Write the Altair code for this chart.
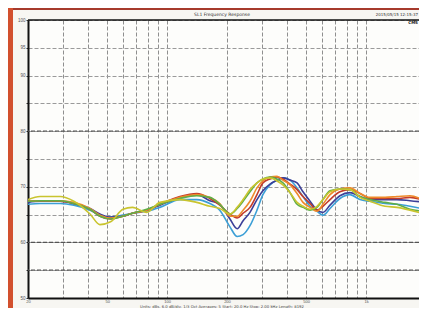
import altair as alt
import pandas as pd

# ---- data ----
freqs = [20, 23, 29, 34, 41, 46, 52, 60, 67, 79, 92, 116, 141, 164, 184, 207, 225, 241, 261, 283,
         303, 329, 357, 382, 415, 450, 482, 523, 567, 607, 659, 739, 830, 932, 1046, 1245, 1430, 1662, 1978]

cyan = [66.85, 67.0, 67.0, 66.7, 65.8, 64.9, 64.55, 64.9, 65.25, 65.6, 66.3, 67.7, 67.7, 67.0, 65.8, 62.8, 61.05, 61.4, 63.0, 65.8,
        68.6, 70.35, 71.2, 71.6, 71.2, 69.8, 68.25, 66.5, 65.6, 64.9, 66.1, 67.9, 68.6, 67.7, 67.4, 67.0, 66.85, 66.5, 65.95]
blue = [67.2, 67.4, 67.4, 67.0, 66.1, 65.1, 64.55, 64.7, 65.25, 65.8, 66.7, 68.1, 68.6, 67.5, 66.85, 64.2, 62.45, 63.9, 65.4, 67.7,
        69.3, 70.5, 71.2, 71.6, 71.2, 70.7, 69.1, 67.4, 65.8, 65.4, 66.7, 68.4, 68.95, 68.25, 67.7, 67.7, 67.7, 67.5, 67.2]
red = [67.4, 67.5, 67.4, 67.0, 65.95, 64.7, 64.2, 64.7, 65.25, 65.8, 66.85, 68.25, 68.8, 67.9, 66.7, 65.1, 64.4, 65.25, 66.3, 68.6,
       70.7, 71.4, 71.75, 71.4, 70.5, 69.5, 68.25, 67.0, 65.8, 66.5, 67.7, 69.1, 69.5, 68.8, 67.9, 67.9, 67.9, 68.1, 67.5]
orange = [67.4, 67.5, 67.5, 67.2, 66.1, 64.9, 64.4, 64.7, 65.25, 65.8, 66.85, 68.1, 68.6, 68.1, 67.0, 64.7, 64.7, 65.8, 67.4, 69.8,
          71.05, 71.75, 71.9, 71.2, 70.35, 68.8, 67.2, 66.3, 65.6, 66.85, 68.6, 69.6, 69.8, 68.8, 68.1, 68.1, 68.25, 68.4, 67.4]
green = [67.4, 67.5, 67.5, 67.0, 65.95, 64.7, 64.2, 64.7, 65.25, 65.95, 66.85, 67.9, 68.4, 68.1, 66.85, 65.1, 66.1, 67.4, 69.1, 70.7,
         71.4, 71.75, 71.4, 70.7, 68.95, 66.85, 66.3, 65.8, 66.3, 67.7, 69.3, 69.6, 69.5, 68.25, 67.7, 67.2, 66.85, 65.95, 65.6]
yellow = [67.7, 68.25, 68.25, 67.4, 65.1, 63.2, 63.7, 65.95, 66.3, 65.4, 67.2, 67.7, 67.2, 66.5, 66.1, 65.1, 66.3, 67.7, 69.5, 70.7,
          71.4, 71.6, 71.05, 70.35, 68.95, 67.2, 66.5, 65.95, 66.5, 67.7, 69.1, 69.6, 69.5, 68.1, 67.4, 66.5, 66.3, 65.8, 65.1]

series_names = ["cyan", "blue", "red", "orange", "green", "yellow"]
series_values = [cyan, blue, red, orange, green, yellow]
series_colors = ["#3c9fd6", "#3b3f98", "#c23b2b", "#ee8a2a", "#5fae48", "#c9c42e"]

x_grid = [20, 30, 40, 50, 60, 70, 80, 90, 100, 200, 300, 400, 500, 600, 700, 800, 900, 1000]
x_labels = [20, 50, 100, 200, 500, 1000]
y_grid = [50, 55, 60, 65, 70, 75, 80, 85, 90, 95, 100]
y_labels = [100, 95, 90, 80, 70, 60, 50]
dark_rules = [80, 60, 55]

title_text = "SL1 Frequency Response"
stamp_text = "2015/05/15 12:15:37"
caption_text = "Units: dBs, 6.0 dB/div, 1/3 Oct  Averages: 5  Start: 20.0 Hz  Stop: 2.00 kHz  Length: 8192"

W, H = 391, 278
X_MAX = 1845  # right edge of the visible (cut-off) plot

rows = []
for name, vals in zip(series_names, series_values):
    for f, v in zip(freqs, vals):
        rows.append({"f": f, "db": v, "s": name})
df = pd.DataFrame(rows)

xscale = alt.Scale(type="log", domain=[20, X_MAX], nice=False)
yscale = alt.Scale(domain=[50, 100], nice=False, zero=False)

lbl_x = "indexof([" + ",".join(str(v) for v in x_labels) + "], datum.value) >= 0 ? (datum.value >= 1000 ? (datum.value/1000) + 'k' : '' + datum.value) : ''"
lbl_y = "indexof([" + ",".join(str(v) for v in y_labels) + "], datum.value) >= 0 ? '' + datum.value : ''"

x_axis = alt.Axis(values=x_grid, labelExpr=lbl_x, grid=True, gridDash=[4, 2], gridColor="#8f8f8f",
                  gridWidth=1, domainColor="#111", domainWidth=2, ticks=False, labelFontSize=4,
                  labelColor="#555", labelPadding=1, labelFlush=False, labelOverlap=False)
y_axis = alt.Axis(values=y_grid, labelExpr=lbl_y, grid=True, gridDash=[4, 2], gridColor="#9a9a9a",
                  gridWidth=1, domainColor="#111", domainWidth=2, tickSize=2, tickColor="#333",
                  labelFontSize=4.5, labelColor="#555", labelPadding=1, labelOverlap=False)

lines = alt.Chart(df).mark_line(strokeWidth=1.6, interpolate="monotone", clip=True).encode(
    x=alt.X("f:Q", scale=xscale, title=None, axis=x_axis),
    y=alt.Y("db:Q", scale=yscale, title=None, axis=y_axis),
    color=alt.Color("s:N", scale=alt.Scale(domain=series_names, range=series_colors), legend=None),
    order=alt.Order("f:Q"),
)

rules = alt.Chart(pd.DataFrame({"y": dark_rules})).mark_rule(
    strokeDash=[4, 2], color="#555", strokeWidth=1.2).encode(
    y=alt.Y("y:Q", scale=yscale, title=None, axis=y_axis))

topline = alt.Chart(pd.DataFrame({"a": [0]})).mark_rule(color="#111", strokeWidth=1.5).encode(
    x=alt.value(0), x2=alt.value(W), y=alt.value(0))

band_top = alt.Chart(pd.DataFrame({"a": [0]})).mark_rect(color="#a63a2c").encode(
    x=alt.value(-20), x2=alt.value(W), y=alt.value(-12), y2=alt.value(-10))
band_left = alt.Chart(pd.DataFrame({"a": [0]})).mark_rect(color="#d2502e").encode(
    x=alt.value(-20), x2=alt.value(-15), y=alt.value(-12), y2=alt.value(H + 10))

title = alt.Chart(pd.DataFrame({"t": [title_text]})).mark_text(
    fontSize=4.5, color="#333", font="DejaVu Sans").encode(text="t:N", x=alt.value(194), y=alt.value(-5))
stamp = alt.Chart(pd.DataFrame({"t": [stamp_text]})).mark_text(
    fontSize=4, color="#333", align="right", font="DejaVu Sans").encode(text="t:N", x=alt.value(W - 1), y=alt.value(-5))
cms = alt.Chart(pd.DataFrame({"t": ["CMS"]})).mark_text(
    fontSize=4, color="#111", align="right", fontWeight="bold", font="DejaVu Sans").encode(
    text="t:N", x=alt.value(W - 1), y=alt.value(3))
caption = alt.Chart(pd.DataFrame({"t": [caption_text]})).mark_text(
    fontSize=3.8, color="#444", font="DejaVu Sans").encode(text="t:N", x=alt.value(194), y=alt.value(H + 9))

chart = alt.layer(band_top, band_left, lines, rules, topline, title, stamp, cms, caption).properties(
    width=W, height=H,
    padding={"left": 20, "top": 12, "right": 0, "bottom": 10},
    autosize=alt.AutoSizeParams(type="none"),
    background="#f7f6f2",
).configure_view(stroke=None, fill="#fdfdfb")

chart.save("out.html", embed_options={"renderer": "svg", "actions": False})
